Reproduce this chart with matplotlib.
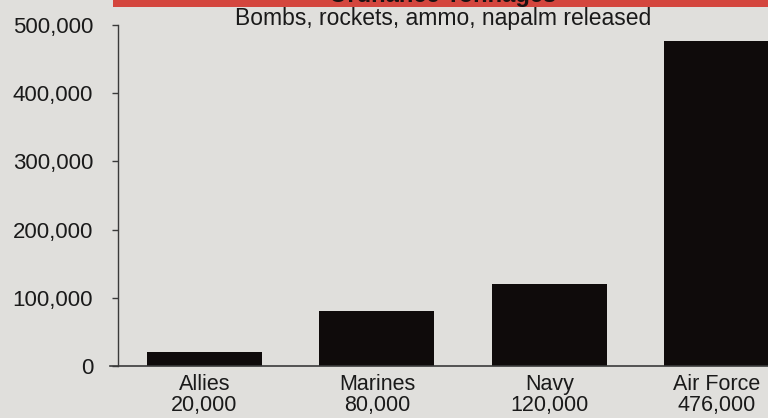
import matplotlib
matplotlib.use("Agg")
import matplotlib.pyplot as plt
import matplotlib.transforms as mtransforms
from matplotlib.patches import Rectangle

# ---- data ----
categories = ["Allies", "Marines", "Navy", "Air Force"]
tonnage = [20000, 80000, 120000, 476000]
value_labels = ["20,000", "80,000", "120,000", "476,000"]
yticks = [0, 100000, 200000, 300000, 400000, 500000]
ytick_labels = ["0", "100,000", "200,000", "300,000", "400,000", "500,000"]
title = "Ordnance Tonnages"
subtitle = "Bombs, rockets, ammo, napalm released"

plt.rcParams["font.family"] = ["Liberation Sans", "DejaVu Sans"]

W, H = 768, 418
fig = plt.figure(figsize=(W / 100, H / 100), dpi=100)
bg = "#e0dfdc"
fig.patch.set_facecolor(bg)

left_px, right_px, bottom_px, top_px = 118, 768, 366, 25
ax = fig.add_axes([left_px / W, (H - bottom_px) / H,
                   (right_px - left_px) / W, (bottom_px - top_px) / H])
ax.set_facecolor("none")

x = list(range(len(categories)))
ax.bar(x, tonnage, width=0.667, color="#0f0b0b", zorder=3)

ax.set_xlim(-0.5014, 3.267)
ax.set_ylim(0, 500000)

for s in ["top", "right", "bottom"]:
    ax.spines[s].set_visible(False)
ax.spines["left"].set_color("#3a3a3a")
ax.spines["left"].set_linewidth(1.0)

ax.axhline(0, xmin=-8 / 650, xmax=1, color="#3a3a3a", lw=1.2,
           clip_on=False, zorder=4)

ax.set_yticks(yticks)
ax.set_yticklabels(ytick_labels)
ax.tick_params(axis="y", direction="out", length=4, width=1.0,
               color="#3a3a3a", pad=14, labelsize=16, labelcolor="#1a1a1a")

ax.set_xticks(x)
ax.set_xticklabels([f"{c}\n{v}" for c, v in zip(categories, value_labels)],
                   linespacing=0.98)
ax.tick_params(axis="x", length=0, pad=6, labelsize=15.5, labelcolor="#1a1a1a")
labs = ax.get_xticklabels()
labs[-1].set_transform(labs[-1].get_transform() +
                       mtransforms.ScaledTranslation(-5 / 100, 0, fig.dpi_scale_trans))

# red title bar at top, partially cut off (as in the reference)
fig.patches.append(Rectangle((113 / W, (H - 7) / H), 1 - 113 / W, 10 / H,
                             transform=fig.transFigure, facecolor="#d4463e",
                             edgecolor="none", zorder=1))
fig.text(443 / W, (H - 7) / H, title, ha="center", va="bottom",
         fontsize=17, fontweight="bold", color="#1a1212")
fig.text(443 / W, (H - 19) / H, subtitle, ha="center", va="center",
         fontsize=16.5, color="#1a1a1a")

fig.savefig("out.png", dpi=100, facecolor=bg)
